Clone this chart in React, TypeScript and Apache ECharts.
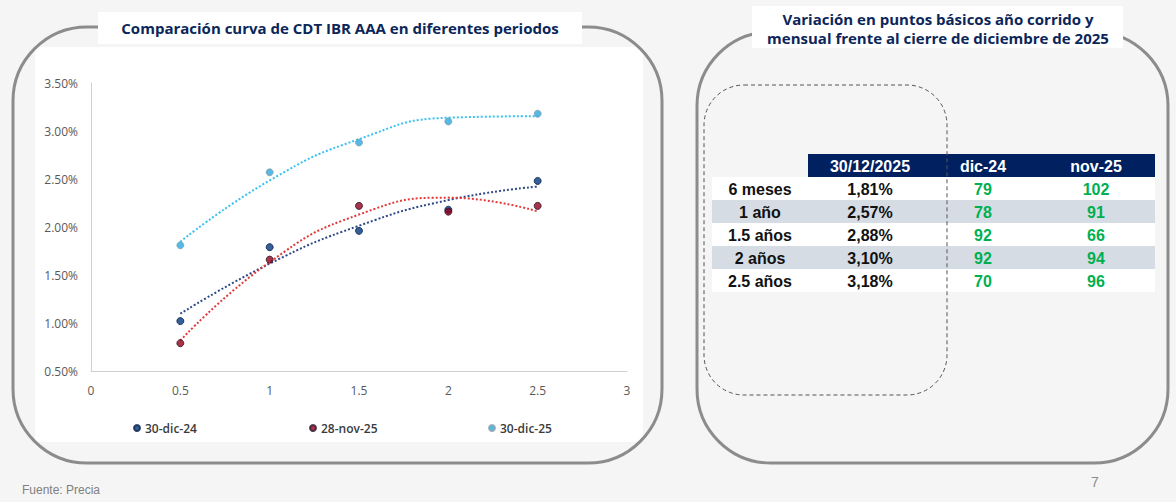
import React, { useEffect, useRef } from "react";
import * as echarts from "echarts";

// ---- Data ----
const tenors = [0.5, 1, 1.5, 2, 2.5];
const seriesNames = ["30-dic-24", "28-nov-25", "30-dic-25"];
const curveDic24 = [1.02, 1.79, 1.96, 2.18, 2.48];
const curveNov25 = [0.79, 1.66, 2.22, 2.16, 2.22];
const curveDic25 = [1.81, 2.57, 2.88, 3.1, 3.18];

const tableHeaders = ["30/12/2025", "dic-24", "nov-25"];
const tableRows = ["6 meses", "1 año", "1.5 años", "2 años", "2.5 años"];
const tableRates = ["1,81%", "2,57%", "2,88%", "3,10%", "3,18%"];
const varDic24 = [79, 78, 92, 92, 70];
const varNov25 = [102, 91, 66, 94, 96];

const leftTitle = "Comparación curva de CDT IBR AAA en diferentes periodos";
const rightTitle1 = "Variación en puntos básicos año corrido y";
const rightTitle2 = "mensual frente al cierre de diciembre de 2025";
const sourceText = "Fuente: Precia";
const pageNumber = "7";

// Least-squares polynomial (order 2) trendline, as in the original chart's trendlines
function quadFit(xs: number[], ys: number[]): number[] {
  const n = xs.length;
  let sx = 0, sx2 = 0, sx3 = 0, sx4 = 0, sy = 0, sxy = 0, sx2y = 0;
  for (let i = 0; i < n; i++) {
    const x = xs[i], y = ys[i];
    sx += x; sx2 += x * x; sx3 += x * x * x; sx4 += x * x * x * x;
    sy += y; sxy += x * y; sx2y += x * x * y;
  }
  const A = [
    [n, sx, sx2],
    [sx, sx2, sx3],
    [sx2, sx3, sx4],
  ];
  const B = [sy, sxy, sx2y];
  const det = (m: number[][]) =>
    m[0][0] * (m[1][1] * m[2][2] - m[1][2] * m[2][1]) -
    m[0][1] * (m[1][0] * m[2][2] - m[1][2] * m[2][0]) +
    m[0][2] * (m[1][0] * m[2][1] - m[1][1] * m[2][0]);
  const D = det(A);
  const coef = [0, 1, 2].map((c) => {
    const M = A.map((row, r) => row.map((v, k) => (k === c ? B[r] : v)));
    return det(M) / D;
  });
  return xs.map((x) => coef[0] + coef[1] * x + coef[2] * x * x);
}

const pointColors = ["#00387f", "#940019", "#2aa8e0"];
const pointBorders = ["#0a1f4a", "#2b1830", "#8aa0ac"];
const trendColors = ["#2f4a86", "#e23a3a", "#38c2f0"];

export default function App() {
  const ref = useRef<HTMLDivElement>(null);
  useEffect(() => {
    if (!ref.current) return;
    const chart = echarts.init(ref.current, null, { renderer: "svg" });
    const curves = [curveDic24, curveNov25, curveDic25];

    const scatterSeries = curves.map((c, i) => ({
      name: seriesNames[i],
      type: "scatter",
      data: tenors.map((x, k) => [x, c[k]]),
      symbol: "circle",
      symbolSize: 7,
      z: 5,
      itemStyle: { color: pointColors[i], borderColor: pointBorders[i], borderWidth: 1 },
    }));
    const trendSeries = curves.map((c, i) => {
      const fit = quadFit(tenors, c);
      return {
        name: seriesNames[i] + " tendencia",
        type: "line",
        data: tenors.map((x, k) => [x, fit[k]]),
        smooth: true,
        showSymbol: false,
        symbol: "none",
        z: 3,
        lineStyle: { type: "dotted", width: 2, color: trendColors[i] },
      };
    });

    const legendLefts = [128, 304, 483];
    const legends = seriesNames.map((n, i) => ({
      data: [n],
      left: legendLefts[i],
      top: 417,
      icon: "circle",
      itemWidth: 6,
      itemHeight: 6,
      itemGap: 0,
      selectedMode: false,
      textStyle: { color: "#3a3a3a", fontSize: 12, fontWeight: 600, fontFamily: "Open Sans" },
    }));

    const titleColor = "#0b2659";
    const border = "#8c8c8c";
    const tFont = "Liberation Sans, Arial, sans-serif";
    const colX = [760, 870, 983, 1096];
    const rowTop = 177;
    const rowH = 23;

    const elements: any[] = [];
    elements.push({ type: "rect", z: -10, shape: { x: 35, y: 47, width: 608, height: 395 }, style: { fill: "#ffffff" } });
    elements.push({ type: "rect", z: 10, shape: { x: 13, y: 27, width: 649, height: 436, r: 74 }, style: { fill: "none", stroke: border, lineWidth: 3 } });
    elements.push({ type: "rect", z: 11, shape: { x: 98, y: 12, width: 484, height: 32 }, style: { fill: "#ffffff" } });
    elements.push({ type: "text", z: 12, style: { text: leftTitle, x: 340, y: 28, align: "center", verticalAlign: "middle", fill: titleColor, font: "bold 15px 'Open Sans', sans-serif" } });
    elements.push({ type: "rect", z: 10, shape: { x: 697, y: 32, width: 471, height: 431, r: 74 }, style: { fill: "none", stroke: border, lineWidth: 3 } });
    elements.push({ type: "rect", z: 11, shape: { x: 752, y: 6, width: 371, height: 42 }, style: { fill: "#ffffff" } });
    elements.push({ type: "text", z: 12, style: { text: rightTitle1, x: 938, y: 19, align: "center", verticalAlign: "middle", fill: titleColor, font: "bold 15px 'Open Sans', sans-serif" } });
    elements.push({ type: "text", z: 12, style: { text: rightTitle2, x: 938, y: 38, align: "center", verticalAlign: "middle", fill: titleColor, font: "bold 15px 'Open Sans', sans-serif" } });

    // table
    elements.push({ type: "rect", z: 1, shape: { x: 712, y: rowTop, width: 443, height: rowH * tableRows.length }, style: { fill: "#ffffff" } });
    elements.push({ type: "rect", z: 2, shape: { x: 808, y: 154, width: 347, height: 23 }, style: { fill: "#002060" } });
    tableHeaders.forEach((h, i) => {
      elements.push({ type: "text", z: 3, style: { text: h, x: colX[i + 1], y: 166, align: "center", verticalAlign: "middle", fill: "#ffffff", font: `bold 16px ${tFont}` } });
    });
    tableRows.forEach((r, i) => {
      const y0 = rowTop + i * rowH;
      const yc = y0 + rowH / 2 + 0.5;
      if (i % 2 === 1) {
        elements.push({ type: "rect", z: 2, shape: { x: 712, y: y0, width: 443, height: rowH }, style: { fill: "#d6dce4" } });
      }
      elements.push({ type: "text", z: 3, style: { text: r, x: colX[0], y: yc, align: "center", verticalAlign: "middle", fill: "#111111", font: `bold 16px ${tFont}` } });
      elements.push({ type: "text", z: 3, style: { text: tableRates[i], x: colX[1], y: yc, align: "center", verticalAlign: "middle", fill: "#111111", font: `bold 16px ${tFont}` } });
      elements.push({ type: "text", z: 3, style: { text: String(varDic24[i]), x: colX[2], y: yc, align: "center", verticalAlign: "middle", fill: "#00b050", font: `bold 16px ${tFont}` } });
      elements.push({ type: "text", z: 3, style: { text: String(varNov25[i]), x: colX[3], y: yc, align: "center", verticalAlign: "middle", fill: "#00b050", font: `bold 16px ${tFont}` } });
    });
    elements.push({ type: "rect", z: 6, shape: { x: 704, y: 85, width: 243, height: 310, r: 40 }, style: { fill: "none", stroke: "#555555", lineWidth: 1, lineDash: [4, 3] } });

    elements.push({ type: "text", z: 3, style: { text: sourceText, x: 22, y: 490, align: "left", verticalAlign: "middle", fill: "#808080", font: `12px ${tFont}` } });
    elements.push({ type: "text", z: 3, style: { text: pageNumber, x: 1095, y: 482, align: "center", verticalAlign: "middle", fill: "#8c8c8c", font: `14px ${tFont}` } });

    const axisLabel = { color: "#595959", fontSize: 12, fontFamily: "Open Sans" };
    chart.setOption({
      animation: false,
      backgroundColor: "#f5f5f5",
      grid: { left: 91, right: 549, top: 83, bottom: 131, containLabel: false },
      xAxis: {
        type: "value",
        min: 0,
        max: 3,
        interval: 0.5,
        axisLine: { show: true, onZero: false, lineStyle: { color: "#d0d0d0", width: 1 } },
        axisTick: { show: false },
        splitLine: { show: false },
        axisLabel: { ...axisLabel, margin: 13 },
      },
      yAxis: {
        type: "value",
        min: 0.5,
        max: 3.5,
        interval: 0.5,
        axisLine: { show: true, onZero: false, lineStyle: { color: "#d0d0d0", width: 1 } },
        axisTick: { show: false },
        splitLine: { show: false },
        axisLabel: { ...axisLabel, margin: 13, formatter: (v: number) => v.toFixed(2) + "%" },
      },
      legend: legends,
      series: [...trendSeries, ...scatterSeries],
      graphic: { elements },
    } as any);
    return () => chart.dispose();
  }, []);

  return (
    <div
      ref={ref}
      style={{ position: "absolute", left: 0, top: 0, width: 1176, height: 502 }}
    />
  );
}
